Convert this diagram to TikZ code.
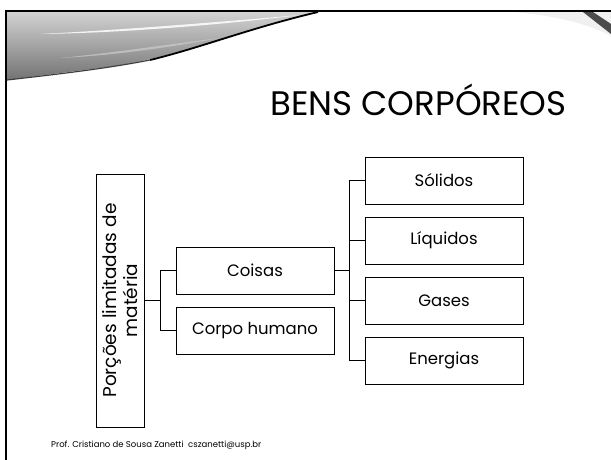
\documentclass[tikz,border=0pt]{standalone}
\usepackage{fontspec}
\setmainfont{Poppins}
\begin{document}
\begin{tikzpicture}[x=1pt,y=-1pt,
  box/.style={draw=black, line width=0.8pt, inner sep=0pt, minimum width=158pt, minimum height=47pt, font=\fontsize{16.5}{18}\selectfont},
  conn/.style={draw=black, line width=0.8pt}]
\useasboundingbox (0,0) rectangle (611,460);
% swoosh top-left
\shade[top color=gray!35, bottom color=gray!90!black] (7,12) -- (318,12) .. controls (250,28) and (170,60) .. (100,68) .. controls (60,73) and (30,77) .. (7,80) -- cycle;
\fill[white, opacity=0.85] (40,34) .. controls (120,30) and (220,22) .. (300,15) .. controls (220,25) and (120,33) .. (40,34) -- cycle;
\fill[gray!40, opacity=0.7] (60,58) .. controls (120,52) and (170,44) .. (220,38) .. controls (170,47) and (120,55) .. (60,58) -- cycle;
\draw[black, line width=1.8pt] (318,12) .. controls (250,28) and (200,48) .. (150,60);
\draw[gray!50!black, line width=1.2pt] (150,60) .. controls (110,68) and (60,74) .. (7,80);
% top-right corner
\fill[gray!12] (513,12) -- (611,12) -- (611,36) .. controls (590,25) and (560,16) .. (513,12) -- cycle;
\fill[gray!60!black] (583,12) -- (593,12) -- (611,24) -- (611,34) -- cycle;
% frame
\draw[black, line width=2pt] (6,460) -- (6,11) -- (611,11);
% title
\node[anchor=base, inner sep=0pt, font=\fontsize{34}{38}\selectfont] (title) at (418.5,115) {BENS CORPÓREOS};
% boxes
\node[draw=black, line width=0.8pt, inner sep=0pt, rotate=90, minimum width=253pt, minimum height=48pt, align=center, font=\fontsize{18.5}{21}\selectfont] (por) at (120,300.5) {Porções limitadas de\\matéria};
\node[box] (coisas) at (255,270.5) {Coisas};
\node[box] (corpo) at (255,330.5) {Corpo humano};
\node[box] (sol) at (444,180.5) {Sólidos};
\node[box] (liq) at (444,240.5) {Líquidos};
\node[box] (gas) at (444,300.5) {Gases};
\node[box] (ene) at (444,360.5) {Energias};
% connectors
\draw[conn] (por.south) -- ++(16,0) coordinate (j1);
\draw[conn] (coisas.west) -| (j1) |- (corpo.west);
\draw[conn] (coisas.east) -- ++(15,0) coordinate (j2);
\draw[conn] (sol.west) -| (j2);
\draw[conn] (liq.west) -| (j2);
\draw[conn] (gas.west) -| (j2);
\draw[conn] (ene.west) -| (j2);
% footer
\node[anchor=base west, inner sep=0pt, font=\fontsize{8.5}{9}\selectfont] (foot) at (51,447) {Prof. Cristiano de Sousa Zanetti\ \ cszanetti@usp.br};
\end{tikzpicture}
\end{document}
